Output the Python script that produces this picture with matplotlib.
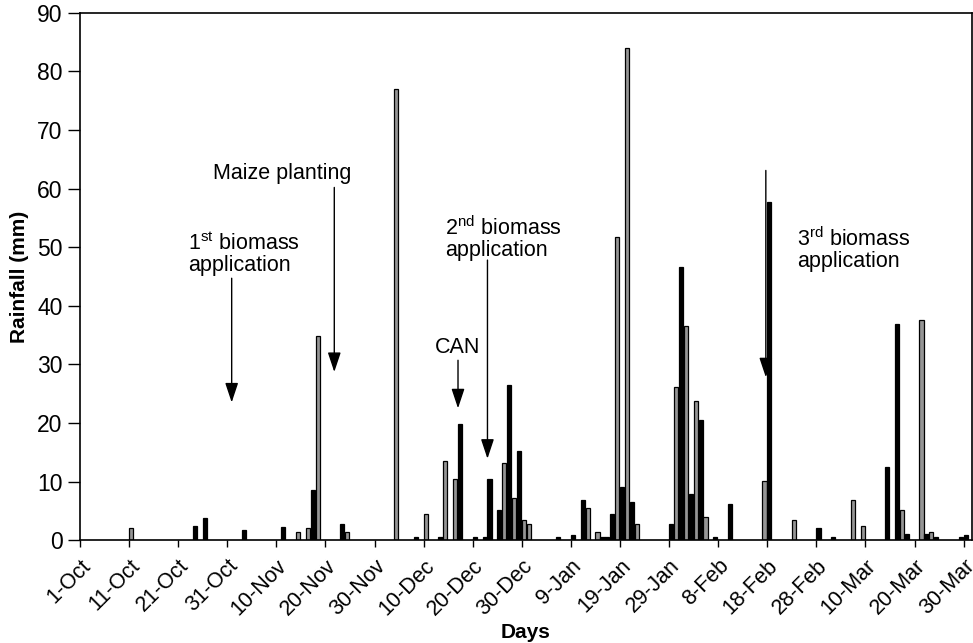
import matplotlib
matplotlib.use("Agg")
import matplotlib.pyplot as plt

plt.rcParams['font.family'] = ['Liberation Sans', 'DejaVu Sans']
plt.rcParams['mathtext.fontset'] = 'custom'
plt.rcParams['mathtext.rm'] = 'Liberation Sans'
plt.rcParams['mathtext.default'] = 'regular'

# days counted from 1-Oct (0) and daily rainfall in mm
days = [10, 23, 25, 33, 41, 44, 46, 47, 48, 53, 54,
        64, 68, 70, 73, 74, 76, 77, 80, 82, 83, 85, 86, 87, 88, 89, 90, 91,
        97, 100, 102, 103, 105, 106, 107, 108, 109, 110, 111, 112, 113,
        120, 121, 122, 123, 124, 125, 126, 127, 129, 132,
        139, 140, 145, 150, 153, 157, 159, 164, 166, 167, 168,
        171, 172, 173, 174, 179, 180]
rain = [2.1, 2.4, 3.8, 1.8, 2.2, 1.4, 2.1, 8.5, 34.8, 2.8, 1.4,
        77.0, 0.5, 4.5, 0.5, 13.5, 10.5, 19.8, 0.5, 0.5, 10.5, 5.1, 13.1, 26.5, 7.2, 15.2, 3.4, 2.7,
        0.5, 0.8, 6.8, 5.5, 1.4, 0.5, 0.5, 4.5, 51.7, 9.1, 84.0, 6.5, 2.7,
        2.7, 26.2, 46.6, 36.5, 7.8, 23.8, 20.5, 4.0, 0.5, 6.1,
        10.1, 57.7, 3.4, 2.1, 0.5, 6.8, 2.4, 12.5, 36.9, 5.1, 1.1,
        37.5, 1.1, 1.4, 0.5, 0.5, 0.8]

# bars that print as solid black in the original
dark_days = {23, 25, 33, 41, 47, 53, 68, 73, 77, 80, 82, 83, 85, 87, 89,
             97, 100, 102, 106, 107, 108, 110, 112, 120, 122, 124, 126, 129, 132,
             140, 150, 153, 164, 166, 168, 172, 174, 179, 180}

tick_days = list(range(0, 181, 10))
tick_labels = ['1-Oct', '11-Oct', '21-Oct', '31-Oct', '10-Nov', '20-Nov', '30-Nov',
               '10-Dec', '20-Dec', '30-Dec', '9-Jan', '19-Jan', '29-Jan', '8-Feb',
               '18-Feb', '28-Feb', '10-Mar', '20-Mar', '30-Mar']

fig = plt.figure(figsize=(9.73, 6.43), dpi=100)
ax = fig.add_axes([0.0822, 0.160, 0.9168, 0.820])

colors = ['black' if d in dark_days else '#959595' for d in days]
ax.bar(days, rain, width=0.85, align='edge', color=colors,
       edgecolor='black', linewidth=0.9)

ax.set_xlim(0, 181.7)
ax.set_ylim(0, 90)
ax.set_yticks(range(0, 91, 10))
ax.set_xticks(tick_days)
ax.set_xticklabels(tick_labels, rotation=45, ha='right', va='top',
                   rotation_mode='anchor')
ax.tick_params(axis='y', direction='out', length=8.5, width=1, labelsize=16.5, pad=4)
ax.tick_params(axis='x', direction='out', length=5, width=1, labelsize=15.5, pad=6)
for s in ax.spines.values():
    s.set_linewidth(1.2)

ax.set_ylabel('Rainfall (mm)', fontsize=15, fontweight='bold', labelpad=6)
ax.set_xlabel('Days', fontsize=15, fontweight='bold')
ax.xaxis.set_label_coords(0.5, -0.158)

arrow = dict(arrowstyle='-|>,head_length=0.6,head_width=0.2', color='black',
             lw=1, mutation_scale=20, shrinkA=0, shrinkB=0)

ax.text(41.1, 62.5, 'Maize planting', fontsize=15.5, ha='center', va='center')
ax.annotate('', xy=(51.8, 28.7), xytext=(51.8, 60.2), arrowprops=arrow)

ax.text(22.0, 48.8, '1$^{st}$ biomass\napplication', fontsize=15.5,
        ha='left', va='center', linespacing=1.0)
ax.annotate('', xy=(30.9, 23.5), xytext=(30.9, 44.7), arrowprops=arrow)

ax.text(77.0, 32.8, 'CAN', fontsize=15.5, ha='center', va='center')
ax.annotate('', xy=(77.0, 22.5), xytext=(77.0, 30.7), arrowprops=arrow)

ax.text(74.3, 51.5, '2$^{nd}$ biomass\napplication', fontsize=15.5,
        ha='left', va='center', linespacing=1.0)
ax.annotate('', xy=(83.0, 13.9), xytext=(83.0, 47.8), arrowprops=arrow)

ax.text(146.0, 49.5, '3$^{rd}$ biomass\napplication', fontsize=15.5,
        ha='left', va='center', linespacing=1.0)
ax.annotate('', xy=(139.7, 27.8), xytext=(139.7, 63.1), arrowprops=arrow)

fig.savefig('out.png', dpi=100)
